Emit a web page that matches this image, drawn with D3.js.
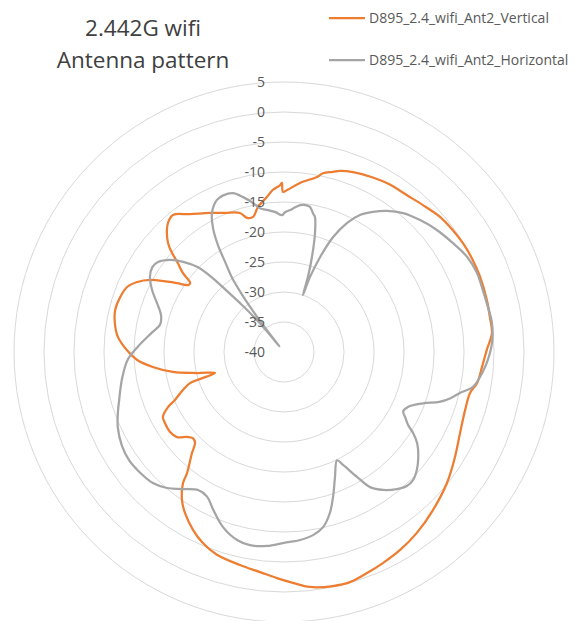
<!DOCTYPE html>
<html>
<head>
<meta charset="utf-8">
<script src="https://cdnjs.cloudflare.com/ajax/libs/d3/7.8.5/d3.min.js"></script>
<style>
  body { margin: 0; background: #fff; }
  text { font-family: 'Open Sans', 'DejaVu Sans', sans-serif; }
</style>
</head>
<body>
<div id="hook-antenna"></div>
<script>
'use strict';

var titleLines = ['2.442G wifi', 'Antenna pattern'];
var seriesNames = ['D895_2.4_wifi_Ant2_Vertical', 'D895_2.4_wifi_Ant2_Horizontal'];
var ringTicks = [5, 0, -5, -10, -15, -20, -25, -30, -35, -40];

// Vertical polarisation, angle (deg, clockwise from top) / level (dB)
var vertAngles = [1.1, 5.4, 10.7, 12.3, 15.2, 17.2, 21, 27, 32, 38, 43.4, 49.1, 54.2, 58.7, 64, 69,
  75.6, 80.4, 84.8, 89.4, 94.3, 99.1, 102.4, 107.8, 114.7, 121.6, 128.8, 136.7, 143.7, 149.6,
  154.9, 159.4, 164, 168.2, 173.7, 177.8, 181.8, 186.2, 191.7, 198.3, 203, 207.1, 211.6, 214.6,
  217.6, 218.7, 222.3, 224.4, 226.6, 228.8, 231.5, 234.9, 239.2, 241.8, 244.6, 246.2, 249.4,
  251.7, 253.1, 256.4, 259.8, 263.5, 266.9, 270.7, 275.2, 279.7, 284, 288.5, 292.5, 295.5,
  298.3, 301.1, 302.8, 304.9, 306.3, 308, 310, 311.5, 313.2, 316.2, 318.3, 321, 325.7, 332,
  337, 342.4, 344.6, 347.1, 349.8, 353.7, 356.1, 358.6, 359.3, 359.6];
var vertValues = [-13.0, -11.7, -10.3, -9.5, -8.9, -8.4, -7.9, -7.35, -7.0, -6.8, -6.3, -5.6, -5.3, -5.1, -5.0, -5.0,
  -5.1, -5.2, -5.2, -6.2, -6.9, -7.4, -8.25, -8.3, -7.7, -6.55, -5.15, -3.8, -2.6, -1.75,
  -1.15, -0.65, -0.1, -0.15, -0.6, -1.5, -2.3, -3.1, -3.75, -4.4, -5.4, -6.7, -8.5, -10.05,
  -12.4, -14.15, -17.2, -18.8, -19.1, -18.5, -17.2, -16.8, -16.9, -17.1, -18.6, -20.1, -22.0,
  -23.5, -28.0, -25.1, -21.2, -18.0, -15.5, -13.8, -12.2, -11.4, -11.0, -11.2, -11.7, -12.9,
  -14.65, -17.3, -18.8, -20.5, -20.6, -18.6, -16.9, -15.1, -13.5, -11.8, -11.0, -10.6, -12.2, -13.75,
  -14.8, -15.7, -16.8, -16.9, -15.45, -14.0, -12.9, -12.2, -11.8, -13.3];

// Horizontal polarisation
var horizAngles = [0.4, 3, 4.4, 7, 10, 12, 12.9, 14.6, 16.4, 17.7, 18.4, 19.1, 20.8, 23.1, 26, 29,
  32.4, 36.1, 40.6, 45.9, 51.4, 57.2, 62.6, 67.7, 72.7, 77.6, 82.1, 87.5, 92.2, 96.1, 100.5,
  103.1, 105.5, 107.8, 110.3, 113.9, 116.5, 118.2, 120.5, 122.1, 124.4, 128, 131.6, 134.8,
  137.5, 140.5, 144.3, 147.5, 149.7, 152.4, 153.9, 157.8, 161.3, 164.1, 167.4, 171, 175.1,
  180, 185, 190, 194, 199.2, 204.2, 208, 211.9, 216.7, 220.7, 225, 230, 235, 240, 245.7,
  250.7, 253.8, 257, 261.5, 267.1, 272, 278.2, 282.5, 286.7, 291.1, 295.2, 299.2, 302.8,
  305.5, 309, 312, 314.5, 316, 317, 318.2, 319.5, 320.4, 321, 321.6, 322.2, 323, 323.8, 325,
  326.8, 328.3, 330.2, 332.6, 336.2, 338.8, 342.2, 345.2, 348.2, 350.5, 353.6, 356.3, 359.2];
var horizValues = [-16.7, -16.2, -15.8, -15.3, -15.4, -16.5, -16.9, -19.5, -23.5, -26.9, -30, -26.8, -23.1, -19.2, -16.1, -13.9,
  -12.35, -10.9, -9.5, -8.4, -7.4, -6.5, -5.6, -5.25, -5.3, -5.2, -5.0, -5.3, -6.0, -6.8, -8.0,
  -9.9, -11.2, -12.8, -15.3, -17.4, -17.8, -17.1, -16.0, -14.6, -13.1, -11.6, -10.4, -9.7,
  -9.7, -10.4, -11.7, -13.3, -15.9, -18.75, -19.9, -17.5, -14.5, -12.1, -10.1, -9.1, -8.55,
  -8.2, -7.55, -7.3, -7.7, -9.1, -11.2, -12.7, -12.9, -11.5, -10.1, -9.1, -8.7, -8.5, -8.8, -9.6,
  -10.7, -11.4, -12.0, -12.8, -13.9, -15.6, -17.7, -18.85, -18.6, -17.3, -15.7, -14.4, -13.9,
  -14.2, -15.6, -17.6, -19.8, -22.8, -26.3, -29.5, -32.6, -35.3, -38.8, -36.7, -34.2, -31.0, -28.2, -24.9,
  -22.1, -19.05, -16.2, -13.9, -12.3, -12.0, -12.2, -13.3, -14.6, -15.7, -16.2, -16.6, -17.2];

var options = {
  width: 577,
  height: 621,
  cx: 284,
  cy: 352,
  radius: 270,
  colors: ['#ED7D31', '#A5A5A5']
};

function zip(angles, values) {
  return angles.map(function(a, i) { return { angle: a, value: values[i] }; });
}

function update(options) {
  var svg = d3.select('#hook-antenna')
    .append('svg')
    .attr('width', options.width)
    .attr('height', options.height);

  var r = d3.scaleLinear()
    .domain([d3.min(ringTicks), d3.max(ringTicks)])
    .range([0, options.radius]);

  var plot = svg.append('g')
    .attr('transform', 'translate(' + options.cx + ',' + options.cy + ')');

  plot.selectAll('circle.ring')
    .data(ringTicks.filter(function(v) { return r(v) > 0; }))
    .enter().append('circle')
    .attr('class', 'ring')
    .attr('r', function(d) { return r(d); })
    .style('fill', 'none')
    .style('stroke', '#d9d9d9')
    .style('stroke-width', 1);

  var line = d3.lineRadial()
    .angle(function(d) { return d.angle * Math.PI / 180; })
    .radius(function(d) { return r(d.value); })
    .curve(d3.curveCatmullRomClosed.alpha(0.5));

  var series = [zip(vertAngles, vertValues), zip(horizAngles, horizValues)];
  series.forEach(function(s, i) {
    plot.append('path')
      .attr('d', line(s))
      .style('fill', 'none')
      .style('stroke', options.colors[i])
      .style('stroke-width', 2.25)
      .style('stroke-linejoin', 'round');
  });

  plot.selectAll('text.tick')
    .data(ringTicks)
    .enter().append('text')
    .attr('class', 'tick')
    .attr('x', -19)
    .attr('y', function(d) { return -r(d); })
    .attr('dy', '0.36em')
    .attr('text-anchor', 'end')
    .style('font-size', '14px')
    .style('fill', '#595959')
    .text(function(d) { return d; });

  svg.selectAll('text.title')
    .data(titleLines)
    .enter().append('text')
    .attr('class', 'title')
    .attr('x', 143)
    .attr('y', function(d, i) { return 36 + i * 32; })
    .attr('text-anchor', 'middle')
    .style('font-size', '22.5px')
    .style('fill', '#404040')
    .text(function(d) { return d; });

  var legend = svg.selectAll('g.legend')
    .data(seriesNames)
    .enter().append('g')
    .attr('class', 'legend')
    .attr('transform', function(d, i) { return 'translate(329,' + (18 + i * 42) + ')'; });

  legend.append('line')
    .attr('x1', 0).attr('x2', 36)
    .style('stroke', function(d, i) { return options.colors[i]; })
    .style('stroke-width', 2.25);

  legend.append('text')
    .attr('x', 40)
    .attr('dy', '0.35em')
    .style('font-size', '14px')
    .style('fill', '#595959')
    .text(function(d) { return d; });
}

update(options);
</script>
</body>
</html>
